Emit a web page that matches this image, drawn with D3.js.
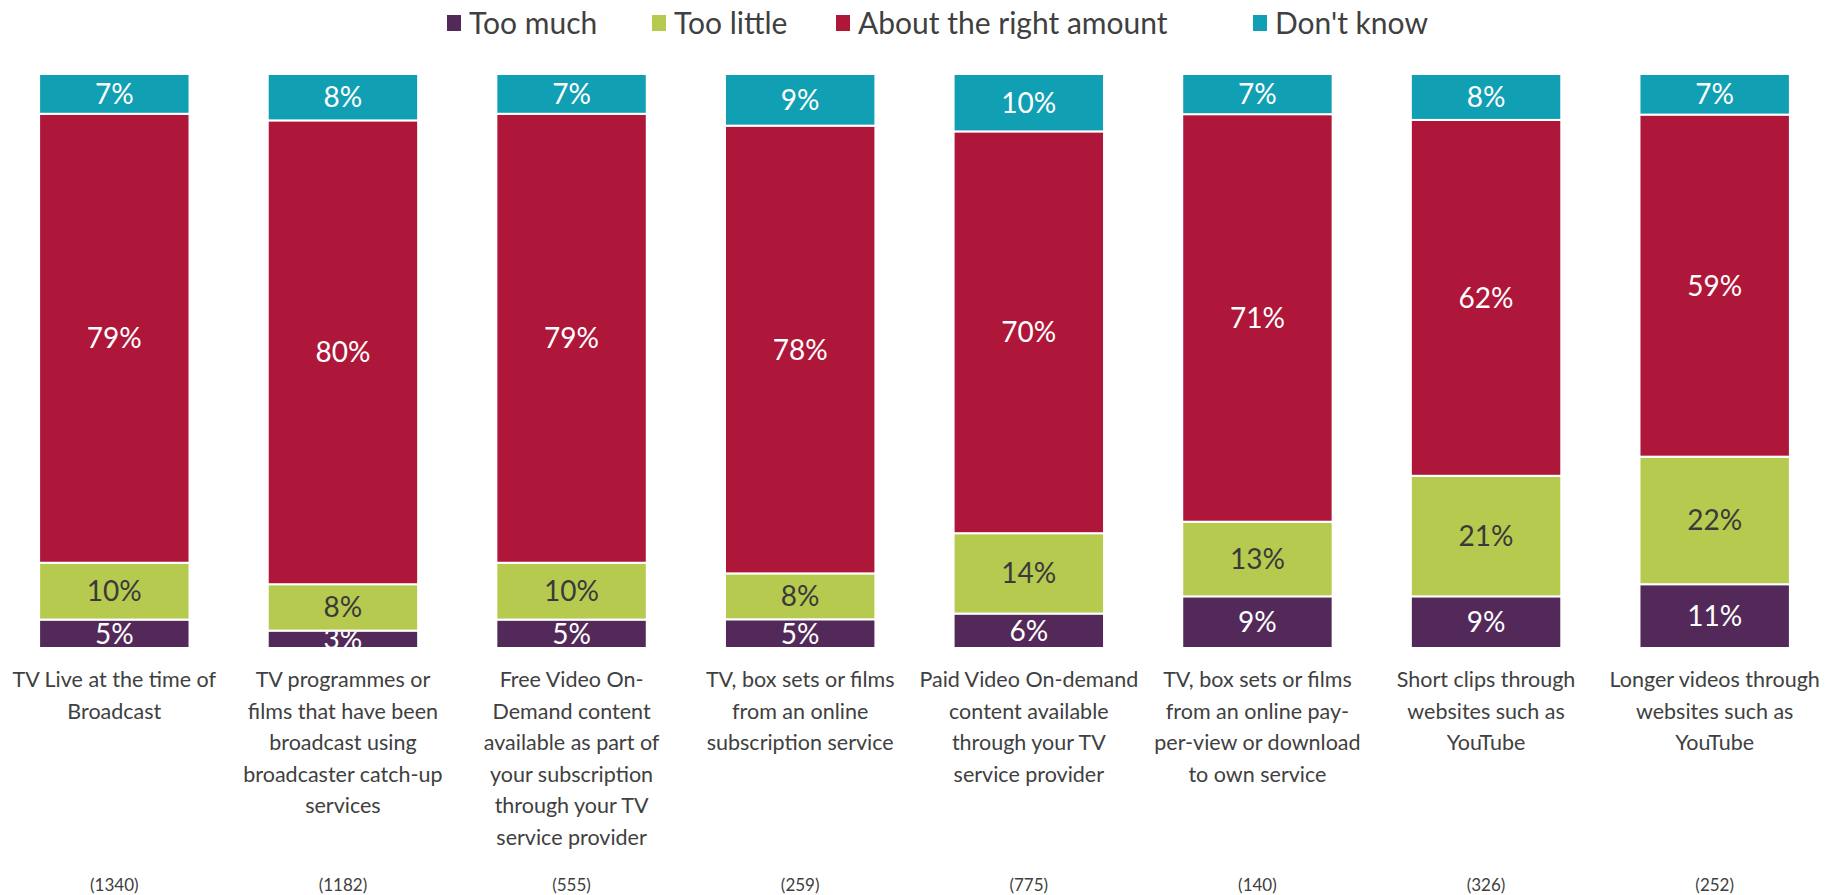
<!DOCTYPE html>
<html>
<head>
<meta charset="utf-8">
<script src="https://cdn.jsdelivr.net/npm/d3@7"></script>
<style>
  html, body { margin: 0; padding: 0; background: #fff; }
  svg { display: block; }
  text { font-family: Lato, "Open Sans", sans-serif; }
</style>
</head>
<body>
<svg id="chart" width="1829" height="895"></svg>
<script>
// Service types shown along the bottom (each entry is one wrapped label)
const categories = [
  ["TV Live at the time of", "Broadcast"],
  ["TV programmes or", "films that have been", "broadcast using", "broadcaster catch-up", "services"],
  ["Free Video On-", "Demand content", "available as part of", "your subscription", "through your TV", "service provider"],
  ["TV, box sets or films", "from an online", "subscription service"],
  ["Paid Video On-demand", "content available", "through your TV", "service provider"],
  ["TV, box sets or films", "from an online pay-", "per-view or download", "to own service"],
  ["Short clips through", "websites such as", "YouTube"],
  ["Longer videos through", "websites such as", "YouTube"]
];
const baseSizes = ["(1340)", "(1182)", "(555)", "(259)", "(775)", "(140)", "(326)", "(252)"];

const seriesNames = ["Too much", "Too little", "About the right amount", "Don't know"];
const tooMuch    = [5, 3, 5, 5, 6, 9, 9, 11];
const tooLittle  = [10, 8, 10, 8, 14, 13, 21, 22];
const aboutRight = [79, 80, 79, 78, 70, 71, 62, 59];
const dontKnow   = [7, 8, 7, 9, 10, 7, 8, 7];

const colors = ["#53295A", "#B7CA50", "#AE1739", "#119FB3"];
const labelColors = ["#ffffff", "#3a3a3a", "#ffffff", "#ffffff"];

const plot = { left: 0, right: 1829, top: 74, bottom: 648 };

const keys = ["s0", "s1", "s2", "s3"];
const rows = categories.map((c, i) => ({
  idx: i,
  s0: tooMuch[i], s1: tooLittle[i], s2: aboutRight[i], s3: dontKnow[i]
}));

// 100% stacked columns
const stack = d3.stack().keys(keys).offset(d3.stackOffsetExpand);
const layers = stack(rows);

const x = d3.scaleBand()
  .domain(d3.range(categories.length))
  .range([plot.left, plot.right])
  .paddingInner(0.342)
  .paddingOuter(0.171);

const y = d3.scaleLinear().domain([0, 1]).range([plot.bottom, plot.top]);

const svg = d3.select("#chart");
const defs = svg.append("defs");

// Legend
const legendX = [447, 652, 836, 1253];
const legend = svg.append("g");
seriesNames.forEach((name, i) => {
  const g = legend.append("g").attr("transform", `translate(${legendX[i]},0)`);
  g.append("rect").attr("x", 0).attr("y", 15).attr("width", 14).attr("height", 16)
    .attr("fill", colors[i]);
  g.append("text").attr("x", 22).attr("y", 34)
    .attr("font-size", 30).attr("fill", "#404040").text(name);
});

// Bars
const barsG = svg.append("g");
layers.forEach((layer, li) => {
  const g = barsG.append("g");
  layer.forEach((d, ci) => {
    const x0 = x(ci), bw = x.bandwidth();
    const y0 = y(d[1]), y1 = y(d[0]);
    g.append("rect")
      .attr("x", x0).attr("y", y0)
      .attr("width", bw).attr("height", y1 - y0)
      .attr("fill", colors[li])
      .attr("stroke", "#fff").attr("stroke-width", 2);

    const clipId = `clip-${li}-${ci}`;
    defs.append("clipPath").attr("id", clipId)
      .append("rect").attr("x", x0).attr("y", y0 + 1)
      .attr("width", bw).attr("height", Math.max(0, y1 - y0 - 1));

    const value = rows[ci][keys[li]];
    svg.append("text")
      .attr("clip-path", `url(#${clipId})`)
      .attr("x", x0 + bw / 2)
      .attr("y", (y0 + y1) / 2 + 10)
      .attr("text-anchor", "middle")
      .attr("font-size", 28)
      .attr("fill", labelColors[li])
      .text(value + "%");
  });
});

// Category labels
const catG = svg.append("g");
categories.forEach((lines, ci) => {
  const t = catG.append("text")
    .attr("x", x(ci) + x.bandwidth() / 2)
    .attr("y", 687)
    .attr("text-anchor", "middle")
    .attr("font-size", 21.5)
    .attr("fill", "#404040");
  lines.forEach((ln, k) => {
    t.append("tspan").attr("x", x(ci) + x.bandwidth() / 2)
      .attr("dy", k === 0 ? 0 : 31.5).text(ln);
  });
});

// Base sizes
svg.append("g").selectAll("text").data(baseSizes).join("text")
  .attr("x", (d, i) => x(i) + x.bandwidth() / 2)
  .attr("y", 891)
  .attr("text-anchor", "middle")
  .attr("font-size", 17)
  .attr("fill", "#404040")
  .text(d => d);
</script>
</body>
</html>
